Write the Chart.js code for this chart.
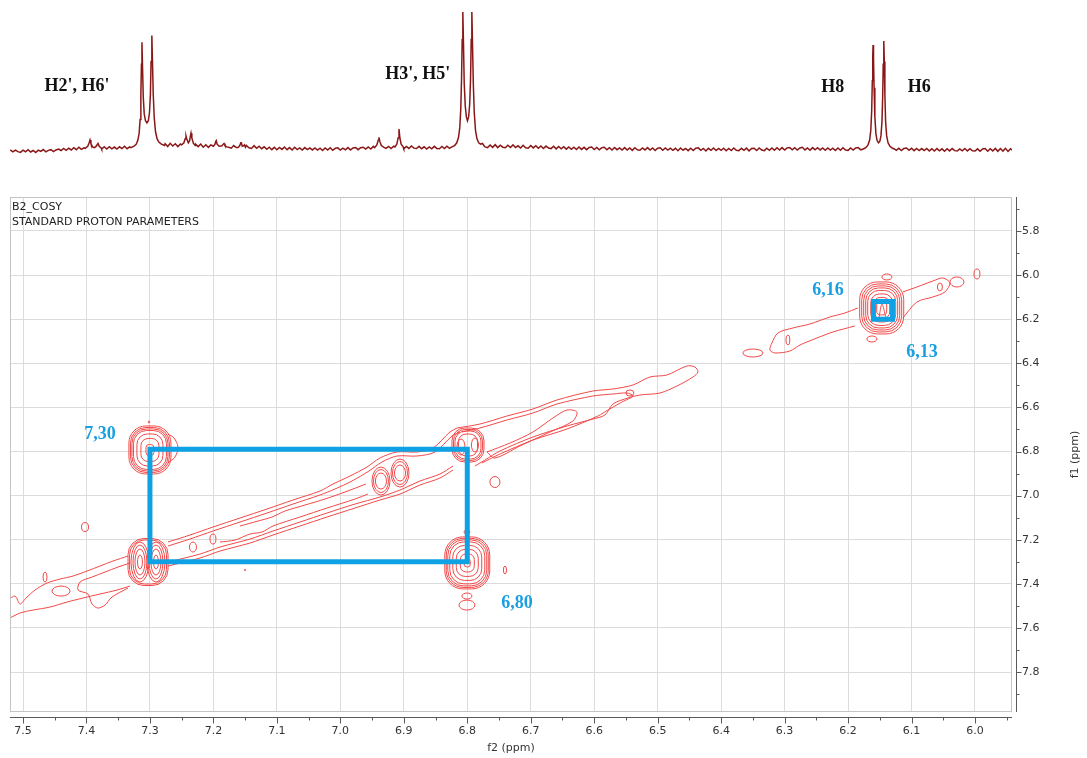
<!DOCTYPE html>
<html>
<head>
<meta charset="utf-8">
<script src="https://cdn.jsdelivr.net/npm/chart.js@4.4.1/dist/chart.umd.min.js"></script>
<style>
  html, body { margin: 0; padding: 0; background: #fff; }
  #wrap { position: relative; width: 1087px; height: 758px; }
  canvas { position: absolute; left: 0; top: 0; }
</style>
</head>
<body>
<div id="wrap">
  <canvas id="cosy" width="1087" height="758"></canvas>
  <canvas id="spec" width="1087" height="170"></canvas>
</div>
<script>
// ---------- axis ranges and ticks (ppm) ----------
const F2_MIN = 5.9417, F2_MAX = 7.5205;
const F1_MIN = 5.646, F1_MAX = 7.981;
const f2TickValues = [7.5, 7.4, 7.3, 7.2, 7.1, 7.0, 6.9, 6.8, 6.7, 6.6, 6.5, 6.4, 6.3, 6.2, 6.1, 6.0];
const f2MinorTicks = [7.45, 7.35, 7.25, 7.15, 7.05, 6.95, 6.85, 6.75, 6.65, 6.55, 6.45, 6.35, 6.25, 6.15, 6.05, 5.95];
const f1TickValues = [5.8, 6.0, 6.2, 6.4, 6.6, 6.8, 7.0, 7.2, 7.4, 7.6, 7.8];
const f1MinorTicks = [5.7, 5.9, 6.1, 6.3, 6.5, 6.7, 6.9, 7.1, 7.3, 7.5, 7.7, 7.9];

// ---------- 1D proton trace (ppm, intensity) ----------
const noiseStart = 7.520, noiseStep = 0.004;
const baselineNoise = [
  -0.2,-1.6,-0.3,-1.4,-2.0,-0.4,-1.5,0.0,-1.7,-0.6,-2.0,-0.3,-1.3,0.1,-1.6,-0.5,0.0,-1.4,-0.2,0.4,
  -0.6,0.9,-0.5,1.1,-0.2,1.4,0.0,1.8,0.2,1.3,1.6,0.3,1.9,0.6,2.0,0.8,0.4,2.1,0.5,2.2,
  0.6,1.9,0.4,2.1,0.8,2.5,0.7,2.0,0.6,2.6,1.2,3.0,1.0,2.2,0.9,2.8,1.3,3.1,1.5,3.4,
  2.8,4.4,2.3,4.6,2.7,4.3,2.2,4.1,2.6,4.8,2.4,3.9,2.0,4.0,2.2,4.1,1.8,3.6,1.7,3.5,
  1.6,3.3,1.4,3.1,1.3,3.5,1.7,1.1,3.0,1.5,3.6,1.6,1.2,3.1,1.4,0.9,2.9,1.0,2.5,0.7,
  2.1,0.3,1.8,0.0,1.7,-0.1,1.6,0.2,1.9,0.0,1.5,-0.2,1.8,0.1,1.3,-0.3,1.5,0.0,1.2,-0.2,
  1.3,-0.3,1.1,-0.6,1.2,-0.2,1.4,-0.4,1.0,1.3,-0.3,1.1,-0.1,1.5,-0.2,1.2,1.6,0.0,1.4,1.8,
  0.4,2.0,0.5,2.4,0.7,2.1,0.6,2.6,0.9,2.3,0.8,2.5,1.0,2.8,1.1,0.7,2.4,0.9,2.7,1.1,
  0.8,2.4,0.7,2.1,0.5,2.0,0.6,2.4,0.9,0.7,2.3,0.8,2.5,1.0,2.8,1.3,3.1,1.5,3.4,1.9,
  3.2,2.0,3.6,1.8,3.5,1.6,3.8,2.0,1.5,3.4,1.7,3.6,1.5,3.3,1.8,1.4,3.2,1.6,3.5,1.5,
  2.8,1.2,3.2,1.4,1.1,3.0,1.3,2.9,1.0,2.7,0.9,2.6,1.2,0.8,2.5,0.6,2.3,0.7,2.2,0.4,
  2.0,0.3,1.8,0.1,1.9,0.2,1.7,0.0,1.6,1.9,0.1,1.6,-0.1,1.5,1.8,0.0,1.4,-0.2,1.6,0.0,
  1.3,-0.3,1.5,-0.2,1.2,-0.5,1.4,-0.1,-0.4,1.3,-0.2,1.5,-0.3,1.2,-0.6,1.1,1.4,-0.4,1.2,-0.3,
  1.1,-0.5,1.0,-0.8,1.2,-0.4,0.9,-0.7,1.1,-0.6,1.0,1.3,-0.5,0.9,-0.9,1.0,-0.4,1.2,-0.6,0.9,
  -0.5,1.1,-0.8,0.9,-0.6,1.2,-0.4,-0.7,1.0,-0.5,1.1,-0.9,0.8,1.0,-0.6,1.2,-0.3,-0.7,1.1,-0.4,
  1.2,-0.4,1.4,-0.2,1.5,-0.3,1.3,1.6,-0.1,1.4,-0.3,1.2,1.7,-0.2,1.3,-0.4,1.5,-0.1,1.4,-0.2,
  1.2,-0.4,1.3,-0.3,1.1,-0.6,1.2,-0.4,1.4,-0.2,-0.5,1.2,-0.3,1.3,1.5,-0.1,1.8,0.2,2.1,0.4,
  1.8,0.2,1.2,-0.2,1.3,1.6,0.0,-0.3,1.1,-0.5,1.0,-0.6,0.9,1.2,-0.5,1.0,-0.7,0.9,-0.6,0.8,
  -0.7,0.9,-0.9,0.7,-1.0,0.8,-0.8,0.6,-1.1,0.7,-0.9,0.8,-0.7,-1.0,0.6,-0.8,0.9,-0.9,0.7,-0.8,
  -1.0,0.6,-1.2,0.5,0.8,-1.1,0.7,-0.9,0.9,-1.2,0.8,-1.0,1.0,-1.3,0.7,-0.8
];
const peak739 = [[7.4020,1.0],[7.3980,2.5],[7.3958,5],[7.3944,7],[7.3930,4.5],[7.3905,2],[7.3875,1.5],[7.3845,2.5],[7.3828,4],[7.3818,4.5],[7.3800,2.5],[7.3765,1.0]];
const peakH2H6 = [[7.3300,1.5],[7.3250,2.5],[7.3215,4],[7.3190,7],[7.3170,12],[7.3155,22],[7.3143,40],[7.3134,62],[7.3126,78],[7.3117,60],[7.3105,38],[7.3090,26],[7.3070,21],[7.3047,19.5],[7.3025,21],[7.3007,27],[7.2993,40],[7.2982,64],[7.2970,83],[7.2960,64],[7.2948,40],[7.2932,23],[7.2912,13],[7.2888,8],[7.2860,5.5],[7.2820,4],[7.2770,3]];
const peak724 = [[7.2500,3.5],[7.2465,5],[7.2445,8],[7.2432,10],[7.2418,7.5],[7.2395,5],[7.2375,6.5],[7.2362,10],[7.2353,12],[7.2340,8.5],[7.2315,4.5],[7.2285,3]];
const peak719 = [[7.2000,2.5],[7.1975,4],[7.1962,6],[7.1955,6.5],[7.1942,4],[7.1910,2.5],[7.1865,2.8],[7.1845,4],[7.1833,4.5],[7.1818,3],[7.1790,2]];
const peak716 = [[7.1610,1.5],[7.1585,3],[7.1568,5],[7.1560,5],[7.1545,2.5],[7.1525,2.8],[7.1510,3.5],[7.1495,1.8]];
const peak694 = [[6.9460,1.5],[6.9425,3.5],[6.9402,7],[6.9391,9],[6.9378,6],[6.9355,3],[6.9320,1.8]];
const peak691 = [[6.9140,2],[6.9110,4],[6.9090,8.5],[6.9076,15],[6.9062,8.5],[6.9042,4],[6.9010,2]];
const peakH3H5 = [[6.8250,1.8],[6.8200,3],[6.8165,5],[6.8138,9],[6.8118,16],[6.8102,30],[6.8090,52],[6.8080,80],[6.8070,100],[6.8060,78],[6.8048,48],[6.8032,32],[6.8015,24],[6.7997,21],[6.7978,24],[6.7962,33],[6.7948,52],[6.7938,80],[6.7928,100],[6.7918,78],[6.7905,48],[6.7890,27],[6.7870,14],[6.7848,8],[6.7820,5],[6.7790,4],[6.7760,4.5],[6.7730,2.5]];
const peakH8H6 = [[6.1760,0.5],[6.1720,1.5],[6.1685,3.5],[6.1660,7],[6.1642,14],[6.1628,28],[6.1618,50],[6.1611,68],[6.1606,76],[6.1599,66],[6.1590,45],[6.1578,24],[6.1562,12],[6.1545,7],[6.1522,5],[6.1500,6],[6.1482,10],[6.1466,20],[6.1454,40],[6.1446,62],[6.1437,79],[6.1429,64],[6.1420,40],[6.1408,20],[6.1392,10],[6.1370,5],[6.1340,2.5],[6.1300,1],[6.1270,0.5]];
const protonLabels = [["H2', H6'", 7.415, 46], ["H3', H5'", 6.878, 55], ["H8", 6.224, 45.5], ["H6", 6.088, 45.5]];

// ---------- COSY contours (f2 ppm, f1 ppm) ----------
// concentric rings: centre and half-extents of each contour level
const crossPeakA = { center: [7.300, 6.793], rings: [[0.0331,0.1088],[0.0307,0.1020],[0.0284,0.0952],[0.0260,0.0884],[0.0205,0.0726],[0.0142,0.0522],[0.0063,0.0249]] };
const crossPeakB = { center: [6.800, 7.305], rings: [[0.0354,0.1179],[0.0331,0.1111],[0.0307,0.1043],[0.0276,0.0952],[0.0228,0.0794],[0.0173,0.0612],[0.0110,0.0408],[0.0047,0.0181]] };
const diag615 = { center: [6.147, 6.149], rings: [[0.0347,0.1179],[0.0315,0.1088],[0.0284,0.0998],[0.0252,0.0907],[0.0221,0.0794],[0.0173,0.0635],[0.0126,0.0476],[0.0079,0.0317]] };
const diag730Outer = { center: [7.303, 7.301], rings: [[0.0315,0.1066],[0.0291,0.0998]] };
const diag730Left = { center: [7.3157, 7.301], rings: [[0.0142,0.0907],[0.0110,0.0771],[0.0079,0.0590],[0.0039,0.0317]] };
const diag730Right = { center: [7.2905, 7.301], rings: [[0.0142,0.0907],[0.0110,0.0771],[0.0079,0.0590],[0.0039,0.0317]] };
const diag680Outer = { center: [6.7989, 6.7705], rings: [[0.0252,0.0771],[0.0228,0.0703],[0.0205,0.0635],[0.0150,0.0499]] };
const diag680Left = { center: [6.8099, 6.7796], rings: [[0.0063,0.0363]] };
const diag680Right = { center: [6.7879, 6.7705], rings: [[0.0055,0.0317]] };
const diag693 = { center: [6.9360, 6.9338], rings: [[0.0142,0.0635],[0.0118,0.0522],[0.0087,0.0363]] };
const diag690 = { center: [6.9060, 6.8975], rings: [[0.0142,0.0635],[0.0118,0.0522],[0.0087,0.0363]] };
// isolated small contours: f2, f1, half-width, half-height
const smallContours = [
  [7.3015,6.6662,0.0012,0.0045],[6.8005,7.1650,0.0047,0.0091],[6.8005,7.4553,0.0079,0.0136],
  [6.8005,7.4961,0.0126,0.0227],[6.7406,7.3374,0.0024,0.0181],[6.7564,6.9383,0.0079,0.0249],
  [7.4023,7.1424,0.0055,0.0204],[7.4653,7.3691,0.0031,0.0227],[7.4401,7.4326,0.0142,0.0227],
  [7.1502,7.3374,0.0010,0.0030],[6.1388,6.0086,0.0079,0.0136],[6.1624,6.2898,0.0079,0.0136],
  [6.3499,6.3533,0.0158,0.0181],[6.2948,6.2943,0.0031,0.0227],[6.0285,6.0313,0.0110,0.0227],
  [5.9969,5.9950,0.0047,0.0227],[6.0553,6.0540,0.0039,0.0181],[6.5437,6.5347,0.0063,0.0136],
  [7.2322,7.2331,0.0055,0.0227],[7.2007,7.1968,0.0047,0.0227]
];
// diagonal ridge contour lines
const ridgeLeftUpper = [[7.5236,7.4734],[7.5126,7.4553],[7.5047,7.4915],[7.4953,7.4643],[7.4811,7.4281],[7.4622,7.3963],[7.4417,7.3782],[7.4212,7.3646],[7.3992,7.3419],[7.3787,7.3192],[7.3582,7.2966],[7.3346,7.2739]];
const ridgeLeftLower = [[7.5236,7.5596],[7.5047,7.5324],[7.4842,7.5188],[7.4575,7.5052],[7.4307,7.4825],[7.4055,7.4643],[7.3787,7.4462],[7.3519,7.4281],[7.3314,7.4100]];
const ridgeLeftInner = [[7.3314,7.3056],[7.3503,7.3238],[7.3708,7.3464],[7.3913,7.3691],[7.4102,7.3918],[7.4133,7.4281],[7.3976,7.4462],[7.3913,7.4915],[7.3818,7.5097],[7.3708,7.4961],[7.3598,7.4598],[7.3346,7.4190]];
const ridgeMidUpper1 = [[7.2716,7.2104],[7.2369,7.1786],[7.2007,7.1424],[7.1581,7.1015],[7.1156,7.0607],[7.0746,7.0199],[7.0321,6.9791],[7.0116,6.9474],[6.9848,6.9111],[6.9580,6.8703],[6.9376,6.8294],[6.9108,6.8022],[6.8793,6.8022],[6.8540,6.7841],[6.8273,6.7115],[6.8162,6.6934]];
const ridgeMidUpper2 = [[7.2716,7.2285],[7.2369,7.1967],[7.2007,7.1605],[7.1581,7.1197],[7.1156,7.0789],[7.0746,7.0381],[7.0321,6.9972],[7.0084,6.9700],[6.9817,6.9338],[6.9549,6.8884],[6.9344,6.8476],[6.9108,6.8204],[6.8793,6.8204],[6.8509,6.8022],[6.8241,6.7297],[6.8115,6.7115]];
const ridgeMidLower1 = [[7.2716,7.3192],[7.2211,7.2829],[7.1896,7.2512],[7.1424,7.2149],[7.1061,7.1786],[7.0636,7.1378],[7.0211,7.0970],[6.9769,7.0562],[6.9376,7.0199],[6.9060,6.9927],[6.8745,6.9519],[6.8430,6.9201],[6.8225,6.8839]];
const ridgeMidLower2 = [[7.2716,7.3011],[7.2211,7.2648],[7.1896,7.2331],[7.1424,7.1968],[7.1061,7.1605],[7.0636,7.1197],[7.0211,7.0789],[6.9769,7.0381],[6.9376,7.0063],[6.9060,6.9746],[6.8745,6.9338],[6.8430,6.9020],[6.8225,6.8657]];
const ridgeMidInnerUpper = [[7.1581,7.1378],[7.1298,7.1152],[7.1077,7.0970],[7.0872,7.0698],[7.0557,7.0426],[7.0242,7.0154],[6.9927,6.9836],[6.9596,6.9474]];
const ridgeMidInnerLower = [[7.1896,7.2104],[7.1660,7.2013],[7.1424,7.1741],[7.1235,7.1650],[7.1061,7.1378],[7.0636,7.0970],[7.0210,7.0562],[6.9769,7.0154],[6.9565,6.9927]];
const ridgeRightOuter = [[6.8162,6.6934],[6.7800,6.6753],[6.7375,6.6390],[6.6965,6.6072],[6.6587,6.5664],[6.6020,6.5256],[6.5705,6.5165],[6.5389,6.4984],[6.5122,6.4621],[6.4854,6.4530],[6.4539,6.4122],[6.4413,6.4168],[6.4365,6.4394],[6.4444,6.4621],[6.4696,6.5029],[6.4964,6.5347],[6.5279,6.5437],[6.5468,6.5573],[6.5705,6.5846],[6.5831,6.6344],[6.6020,6.6526],[6.6429,6.6843],[6.6965,6.7342],[6.7485,6.7977],[6.7721,6.8385],[6.7879,6.8657]];
const ridgeRightMiddle = [[6.8084,6.7115],[6.7800,6.6934],[6.7375,6.6571],[6.6965,6.6254],[6.6587,6.5846],[6.6020,6.5483],[6.5705,6.5392],[6.5484,6.5347],[6.5389,6.5483],[6.5563,6.5755],[6.5783,6.6118],[6.5941,6.6390],[6.6429,6.6979],[6.6965,6.7478],[6.7485,6.8113],[6.7769,6.8521]];
const ridgeRightInner = [[6.7690,6.8022],[6.7327,6.7614],[6.6965,6.7115],[6.6650,6.6480],[6.6429,6.6118],[6.6272,6.6208],[6.6335,6.6617],[6.6697,6.7115],[6.7170,6.7750],[6.7564,6.8294],[6.7690,6.8022]];
const ridgeTopLeft = [[6.1845,6.1492],[6.2049,6.1719],[6.2286,6.1900],[6.2601,6.2218],[6.2869,6.2399],[6.3105,6.2626],[6.3200,6.3079],[6.3231,6.3397],[6.3152,6.3533],[6.2916,6.3442],[6.2758,6.3170],[6.2569,6.2943],[6.2238,6.2580],[6.1892,6.2308]];
const ridgeTopRight = [[6.1136,6.0766],[6.0915,6.0540],[6.0663,6.0268],[6.0505,6.0131],[6.0395,6.0358],[6.0474,6.0766],[6.0663,6.0993],[6.0915,6.1220],[6.1136,6.1945]];
const crossALobe = [[7.2716,6.7206],[7.2621,6.7387],[7.2558,6.7796],[7.2605,6.8249],[7.2716,6.8521]];
const diag615Core = [[6.1514,6.1945],[6.1466,6.1311],[6.1403,6.1945]];

// highlighted coupling boxes and their shift labels
const couplingBox = [[7.30,6.79],[6.80,6.79],[6.80,7.30],[7.30,7.30],[7.30,6.79]];
const h8h6Box = [[6.16,6.12],[6.13,6.12],[6.13,6.20],[6.16,6.20],[6.16,6.12]];
const shiftLabels = [["7,30", 7.3787, 6.7206], ["6,16", 6.2317, 6.0676], ["6,13", 6.0836, 6.3487], ["6,80", 6.7217, 7.4870]];

// ---------- styles ----------
const CONTOUR_RED = '#f24848';
const TRACE_RED = '#8a1717';
const BOX_BLUE = '#0ea2e4';
const LABEL_BLUE = '#1a9fe0';
const GRID = '#dcdcdc';
const AXIS_DARK = '#5a5a5a';
const TEXT = '#333';
Chart.defaults.font.family = '"DejaVu Sans", sans-serif';

const toXY = arr => arr.map(([x, y]) => ({ x, y }));

// ---------- assemble the 1D trace ----------
const peakLists = [peak739, peakH2H6, peak724, peak719, peak716, peak694, peak691, peakH3H5, peakH8H6];
const peakWindows = peakLists.map(p => [p[p.length - 1][0], p[0][0]]);
const tracePoints = [];
baselineNoise.forEach((v, i) => {
  const x = +(noiseStart - i * noiseStep).toFixed(3);
  if (!peakWindows.some(w => x >= w[0] && x <= w[1])) tracePoints.push({ x, y: v });
});
peakLists.forEach(p => p.forEach(([x, y]) => tracePoints.push({ x, y })));
tracePoints.sort((a, b) => b.x - a.x);

const protonLabelPlugin = {
  id: 'protonLabels',
  afterDatasetsDraw(chart) {
    const { ctx, scales: { x, y } } = chart;
    ctx.save();
    ctx.font = 'bold 18px "Liberation Serif", serif';
    ctx.fillStyle = '#111';
    ctx.textAlign = 'center';
    ctx.textBaseline = 'middle';
    protonLabels.forEach(([t, px, py]) => ctx.fillText(t, x.getPixelForValue(px), y.getPixelForValue(py)));
    ctx.restore();
  }
};

new Chart(document.getElementById('spec'), {
  type: 'scatter',
  data: { datasets: [{ data: tracePoints, showLine: true, borderColor: TRACE_RED, borderWidth: 1.5, pointRadius: 0, tension: 0 }] },
  options: {
    responsive: false, animation: false, devicePixelRatio: 1,
    layout: { padding: { left: 10, right: 75, top: 12, bottom: 10 } },
    plugins: { legend: { display: false }, tooltip: { enabled: false } },
    scales: {
      x: { type: 'linear', min: F2_MIN, max: F2_MAX, reverse: true, display: false },
      y: { type: 'linear', min: -7.5, max: 100, display: false }
    }
  },
  plugins: [protonLabelPlugin]
});

// ---------- COSY map ----------
const ringGroups = [
  { g: crossPeakA, squarish: true }, { g: crossPeakB, squarish: true }, { g: diag615, squarish: true },
  { g: diag730Outer, squarish: true }, { g: diag730Left }, { g: diag730Right },
  { g: diag680Outer, squarish: true }, { g: diag680Left }, { g: diag680Right },
  { g: diag693 }, { g: diag690 }
];

const ringPlugin = {
  id: 'contourRings',
  beforeDatasetsDraw(chart) {
    const { ctx, chartArea: a, scales: { x, y } } = chart;
    ctx.save();
    ctx.beginPath(); ctx.rect(a.left, a.top, a.width, a.height); ctx.clip();
    ctx.strokeStyle = CONTOUR_RED; ctx.lineWidth = 1;
    const ring = (cxv, cyv, dx, dy, squarish) => {
      const cx = x.getPixelForValue(cxv), cy = y.getPixelForValue(cyv);
      const rx = Math.abs(x.getPixelForValue(cxv + dx) - cx);
      const ry = Math.abs(y.getPixelForValue(cyv + dy) - cy);
      ctx.beginPath();
      if (squarish) ctx.roundRect(cx - rx, cy - ry, 2 * rx, 2 * ry, Math.min(rx, ry) * 0.8);
      else ctx.ellipse(cx, cy, rx, ry, 0, 0, Math.PI * 2);
      ctx.stroke();
    };
    ringGroups.forEach(({ g, squarish }) => g.rings.forEach(([dx, dy]) => ring(g.center[0], g.center[1], dx, dy, squarish)));
    smallContours.forEach(([cx, cy, dx, dy]) => ring(cx, cy, dx, dy, false));
    ctx.restore();
  }
};

const framePlugin = {
  id: 'frameAndAxes',
  afterDatasetsDraw(chart) {
    const { ctx, chartArea: a, scales: { x, y } } = chart;
    ctx.save();
    ctx.font = 'bold 18px "Liberation Serif", serif';
    ctx.fillStyle = LABEL_BLUE;
    ctx.textAlign = 'center'; ctx.textBaseline = 'middle';
    shiftLabels.forEach(([t, px, py]) => ctx.fillText(t, x.getPixelForValue(px), y.getPixelForValue(py)));
    ctx.font = '11px "DejaVu Sans", sans-serif';
    ctx.fillStyle = '#222'; ctx.textAlign = 'left';
    ctx.fillText('B2_COSY', a.left + 2, a.top + 10);
    ctx.fillText('STANDARD PROTON PARAMETERS', a.left + 2, a.top + 25);
    ctx.restore();
  },
  afterDraw(chart) {
    const { ctx, chartArea: a, scales: { x, y } } = chart;
    ctx.save();
    ctx.strokeStyle = '#c4c4c4'; ctx.lineWidth = 1;
    ctx.strokeRect(a.left + 0.5, a.top + 0.5, a.width - 1, a.height - 1);
    ctx.strokeStyle = AXIS_DARK;
    const axY = Math.round(a.bottom) + 5.5;
    ctx.beginPath();
    ctx.moveTo(a.left, axY); ctx.lineTo(a.right, axY);
    f2TickValues.forEach(v => { const p = Math.round(x.getPixelForValue(v)) + 0.5; ctx.moveTo(p, axY); ctx.lineTo(p, axY + 6); });
    f2MinorTicks.forEach(v => { const p = Math.round(x.getPixelForValue(v)) + 0.5; ctx.moveTo(p, axY); ctx.lineTo(p, axY + 3); });
    const axX = Math.round(a.right) + 4.5;
    ctx.moveTo(axX, a.top); ctx.lineTo(axX, a.bottom);
    f1TickValues.forEach(v => { const p = Math.round(y.getPixelForValue(v)) + 0.5; ctx.moveTo(axX, p); ctx.lineTo(axX + 5, p); });
    f1MinorTicks.forEach(v => { const p = Math.round(y.getPixelForValue(v)) + 0.5; ctx.moveTo(axX, p); ctx.lineTo(axX + 3, p); });
    ctx.stroke();
    ctx.fillStyle = TEXT;
    ctx.font = '11px "DejaVu Sans", sans-serif';
    ctx.textAlign = 'center'; ctx.textBaseline = 'middle';
    ctx.translate(1075, (a.top + a.bottom) / 2);
    ctx.rotate(-Math.PI / 2);
    ctx.fillText('f1 (ppm)', 0, 0);
    ctx.restore();
  }
};

const contourLine = arr => ({ data: toXY(arr), showLine: true, borderColor: CONTOUR_RED, borderWidth: 1, pointRadius: 0, tension: 0.3, order: 2 });
const boxLine = arr => ({ data: toXY(arr), showLine: true, borderColor: BOX_BLUE, borderWidth: 5, pointRadius: 0, tension: 0, borderJoinStyle: 'miter', borderCapStyle: 'square', order: 0 });

new Chart(document.getElementById('cosy'), {
  type: 'scatter',
  data: {
    datasets: [
      boxLine(couplingBox), boxLine(h8h6Box),
      contourLine(ridgeLeftUpper), contourLine(ridgeLeftLower), contourLine(ridgeLeftInner),
      contourLine(ridgeMidUpper1), contourLine(ridgeMidUpper2), contourLine(ridgeMidLower1), contourLine(ridgeMidLower2),
      contourLine(ridgeMidInnerUpper), contourLine(ridgeMidInnerLower),
      contourLine(ridgeRightOuter), contourLine(ridgeRightMiddle), contourLine(ridgeRightInner),
      contourLine(ridgeTopLeft), contourLine(ridgeTopRight), contourLine(crossALobe), contourLine(diag615Core)
    ]
  },
  options: {
    responsive: false, animation: false, devicePixelRatio: 1,
    layout: { padding: { left: 10, right: 0, top: 197, bottom: 0 } },
    plugins: { legend: { display: false }, tooltip: { enabled: false } },
    scales: {
      x: {
        type: 'linear', position: 'bottom', min: F2_MIN, max: F2_MAX, reverse: true,
        afterBuildTicks: s => { s.ticks = f2TickValues.map(v => ({ value: v })); },
        afterFit: s => { s.height = 46; },
        ticks: { callback: v => v.toFixed(1), color: TEXT, font: { size: 11 }, padding: 13, maxRotation: 0, autoSkip: false },
        grid: { color: GRID, drawTicks: false },
        border: { display: false },
        title: { display: true, text: 'f2 (ppm)', color: TEXT, font: { size: 11 }, padding: { top: 0, bottom: 3 } }
      },
      y: {
        type: 'linear', position: 'right', min: F1_MIN, max: F1_MAX, reverse: true,
        afterBuildTicks: s => { s.ticks = f1TickValues.map(v => ({ value: v })); },
        afterFit: s => { s.width = 75; },
        ticks: { callback: v => v.toFixed(1), color: TEXT, font: { size: 11 }, padding: 10, autoSkip: false },
        grid: { color: GRID, drawTicks: false },
        border: { display: false }
      }
    }
  },
  plugins: [ringPlugin, framePlugin]
});
</script>
</body>
</html>
